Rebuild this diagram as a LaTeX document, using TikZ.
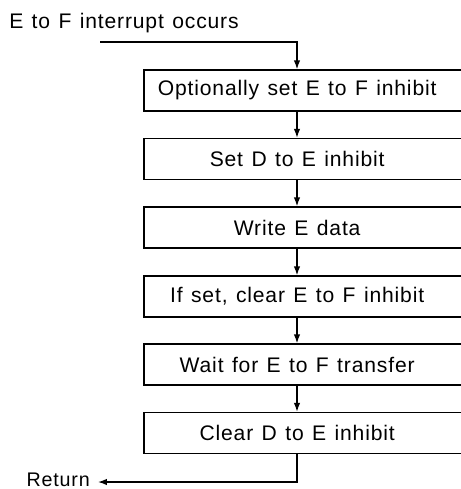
\documentclass[tikz,border=0pt]{standalone}
\usepackage{fontspec}
\setmainfont{Liberation Sans}[WordSpace=1.25, LetterSpace=4]
\usetikzlibrary{arrows.meta}

\tikzset{
  stepbox/.style={draw, line width=1pt, minimum width=7.975cm, minimum height=1.025cm,
    inner sep=0pt, font=\fontsize{15}{17}\selectfont},
  flow/.style={line width=1pt, -{Latex[length=2.2mm,width=1.6mm]}}
}

\begin{document}
\begin{tikzpicture}[x=0.025cm, y=-0.025cm]
      \useasboundingbox (0,0) rectangle (461,489);
      \node [anchor=base west, inner sep=0pt, font=\fontsize{15}{17}\selectfont] (start) at (9,28.5) {E to F interrupt occurs};
      \coordinate (in) at (100,42);
      \coordinate (down) at (297,42);
      \node [stepbox] (b1) at (303.5,90.5) {\hspace*{-9pt}Optionally set E to F inhibit};
      \node [stepbox] (b2) at (303.5,159) {\hspace*{-9pt}Set D to E inhibit};
      \node [stepbox] (b3) at (303.5,227.5) {\hspace*{-9pt}Write E data};
      \node [stepbox] (b4) at (303.5,296.5) {\hspace*{-9pt}If set, clear E to F inhibit};
      \node [stepbox] (b5) at (303.5,364.5) {\hspace*{-9pt}Wait for E to F transfer};
      \node [stepbox] (b6) at (303.5,433) {\hspace*{-9pt}Clear D to E inhibit};
      \coordinate (turn) at (297,482);
      \coordinate (out) at (98,482);
      \node [anchor=base east, inner sep=0pt, font=\fontsize{14}{16}\selectfont] (ret) at (90,486) {Return};
      \draw [flow] (in) -- (down) -- (b1.north -| down);
      \draw [flow] (b1.south -| down) -- (b2.north -| down);
      \draw [flow] (b2.south -| down) -- (b3.north -| down);
      \draw [flow] (b3.south -| down) -- (b4.north -| down);
      \draw [flow] (b4.south -| down) -- (b5.north -| down);
      \draw [flow] (b5.south -| down) -- (b6.north -| down);
      \draw [flow] (b6.south -| down) -- (turn) -- (out);
    \end{tikzpicture}
\end{document}
